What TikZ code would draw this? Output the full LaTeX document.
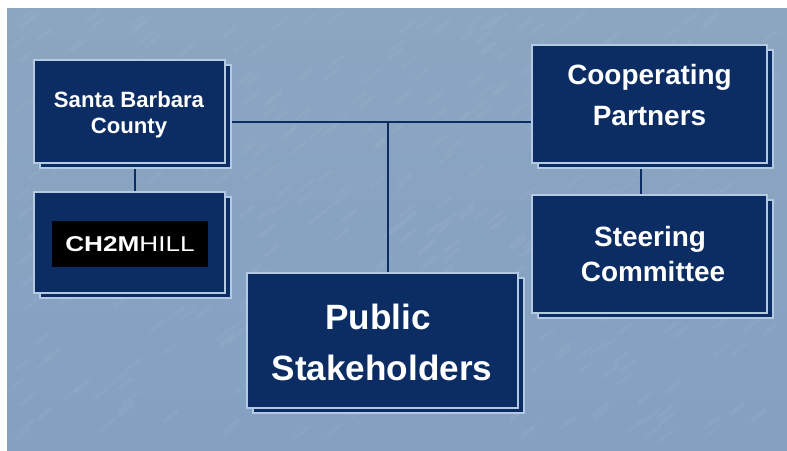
\documentclass[tikz,border=0pt]{standalone}
\usepackage{fontspec}
\setmainfont{Liberation Sans}
\usepackage{xcolor}
\usetikzlibrary{shadows, backgrounds}
\definecolor{slidetop}{HTML}{8CA5C1}
\definecolor{slidelow}{HTML}{84A1C2}
\definecolor{slidelight}{HTML}{A3B8CF}
\definecolor{navy}{HTML}{0B2D63}
\definecolor{rim}{HTML}{B4CAE2}
\tikzset{
    orgbox/.style={draw=rim, fill=navy, line width=1pt, inner sep=0pt,
        copy shadow={draw=rim, fill=navy, shadow xshift=0.12cm, shadow yshift=-0.1cm}},
    boxtext/.style={text=white, align=center, inner sep=0pt},
    link/.style={draw=navy, line width=1.2pt}
}

\begin{document}
\begin{tikzpicture}[x=0.02cm, y=-0.02cm]
    \useasboundingbox (0,0) rectangle (787,450);
    % County and logo
    \node[orgbox, minimum width=3.82cm, minimum height=2.06cm] (county) at (129.5,111.5) {};
    \node[boxtext, font=\bfseries\fontsize{12.6}{14.8}\selectfont] (countytext) at (129,115) {Santa Barbara\\County};
    \node[orgbox, minimum width=3.82cm, minimum height=2.02cm] (firm) at (129.5,242.5) {};
    \node[fill=black, text=white, minimum width=3.12cm, minimum height=0.92cm, inner sep=0pt, font=\fontsize{12.2}{14}\selectfont] (logo) at (130,244) {\scalebox{1.22}[1]{\textbf{CH2M}HILL}};
    % Partners and committee
    \node[orgbox, minimum width=4.7cm, minimum height=2.36cm] (partners) at (649.5,104) {};
    \node[boxtext, font=\bfseries\fontsize{15.9}{22.8}\selectfont] (partnerstext) at (649.5,95) {Cooperating\\Partners};
    \node[orgbox, minimum width=4.7cm, minimum height=2.36cm] (steering) at (649.5,254) {};
    \node[boxtext, font=\bfseries\fontsize{15.9}{19.5}\selectfont] (steeringtext) at (653,254) {Steering\rule{3.4pt}{0pt}\\Committee};
    % Stakeholders
    \node[orgbox, minimum width=5.42cm, minimum height=2.7cm] (public) at (382.5,340.5) {};
    \node[boxtext, font=\bfseries\fontsize{20}{29}\selectfont] (publictext) at (382,342.5) {Public\rule{4.5pt}{0pt}\\Stakeholders};
    % Ties
    \coordinate (junction) at (388,122);
    \coordinate (leftdrop) at (135,178);
    \coordinate (rightdrop) at (641,178);
    \begin{pgfonlayer}{background}
        % Slide
        \shade[top color=slidetop, bottom color=slidelow] (7,8) rectangle (787,450);
        \pgfmathsetseed{11}
        \foreach \i in {1,...,420}{
            \pgfmathsetmacro{\px}{10+rnd*760}
            \pgfmathsetmacro{\py}{22+rnd*420}
            \draw[slidelight, opacity=0.16, line width=2pt] (\px,\py) -- ++(15,-12);
        }
        \draw[link] (county.east |- junction) -- (partners.west |- junction);
        \draw[link] (junction) -- (public.north -| junction);
        \draw[link] (county.south -| leftdrop) -- (firm.north -| leftdrop);
        \draw[link] (partners.south -| rightdrop) -- (steering.north -| rightdrop);
    \end{pgfonlayer}
\end{tikzpicture}
\end{document}
